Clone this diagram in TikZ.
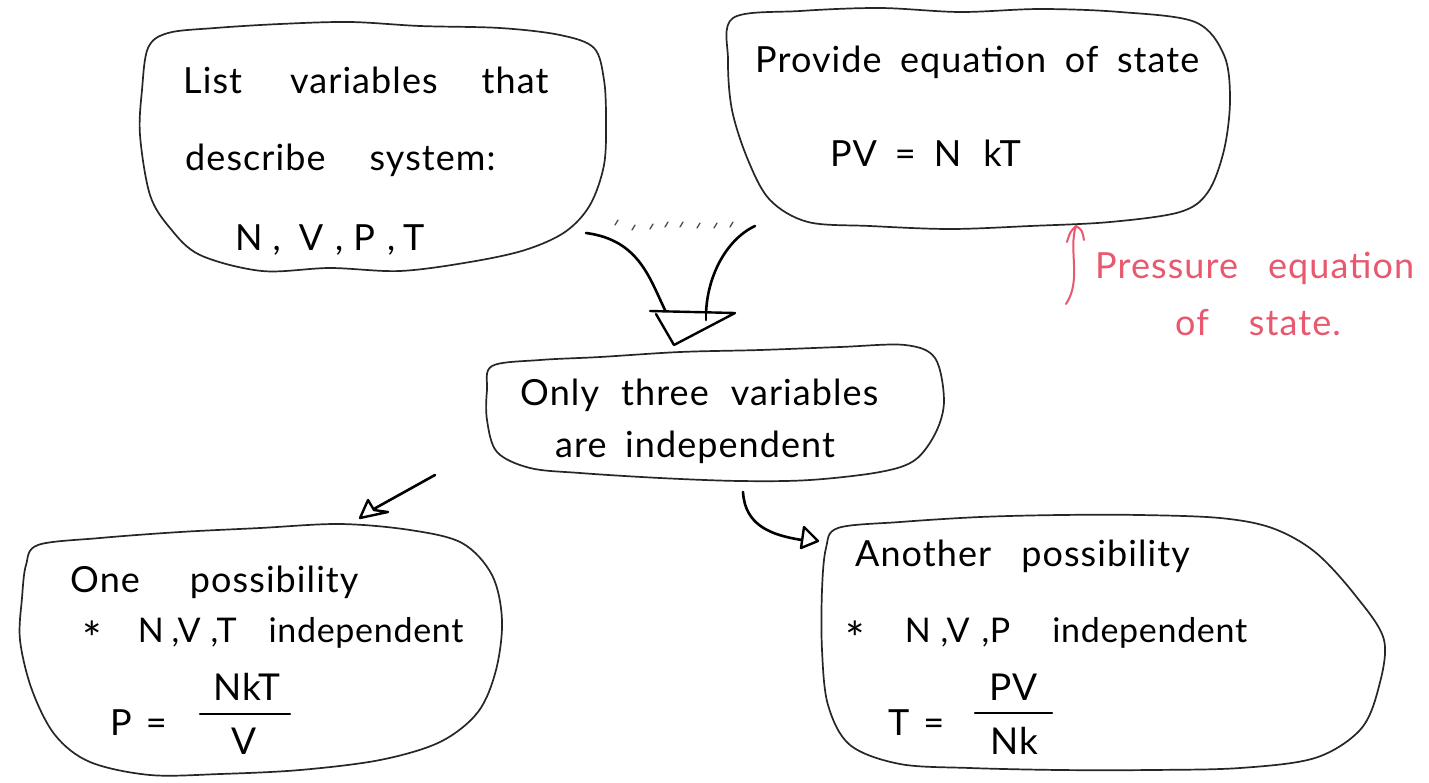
\documentclass[tikz,border=0pt]{standalone}
\usepackage{fontspec}
\setmainfont{Lato}[WordSpace=1.8,LetterSpace=3]
\newfontfamily\handtight{Lato}[WordSpace=1.4,LetterSpace=2]
\newcommand{\gap}[1]{\hspace{#1pt}}
\newcommand{\bulletstar}{\raisebox{-13pt}{\fontsize{46}{40}\selectfont*}}
\begin{document}
\begin{tikzpicture}[x=1pt,y=-1pt,line cap=round,line join=round]
\useasboundingbox[fill=white] (0,0) rectangle (1429,782);
\definecolor{pinkpen}{RGB}{232,88,110}
\tikzset{
  blob/.style={draw=black!85,line width=1.7pt},
  hand/.style={font=\fontsize{36}{40}\selectfont,anchor=base west,inner sep=0pt},
  handt/.style={font=\handtight\fontsize{34}{40}\selectfont,anchor=base west,inner sep=0pt},
  handc/.style={font=\fontsize{37}{40}\selectfont,anchor=base,inner sep=0pt},
  pen/.style={draw=black,line width=2.6pt},
  pinkhand/.style={hand,text=pinkpen},
  openhead/.style={draw=black,line width=2.4pt,fill=white}
}
% ---- outlines
\draw[blob] plot[smooth cycle,tension=0.55] coordinates{(148,48) (142,90) (140,135) (150,195) (170,228) (200,255) (262,271) (330,268) (400,271) (470,262) (525,250) (565,232) (590,205) (604,165) (606,120) (604,80) (594,48) (560,35) (500,28) (420,26) (350,22) (280,24) (215,28) (168,33)};
\draw[blob] plot[smooth cycle,tension=0.55] coordinates{(733,18) (800,11) (880,8) (960,12) (1040,9) (1120,12) (1195,22) (1224,55) (1230,100) (1224,150) (1208,192) (1180,212) (1110,222) (1030,226) (950,229) (870,226) (808,222) (770,200) (748,160) (732,110) (728,60)};
\draw[blob] plot[smooth cycle,tension=0.55] coordinates{(492,366) (540,360) (600,357) (680,352) (760,350) (840,347) (905,345) (935,358) (944,400) (936,432) (915,460) (880,472) (810,480) (740,481) (660,478) (580,473) (530,468) (497,452) (487,420) (487,390)};
\draw[blob] plot[smooth cycle,tension=0.55] coordinates{(38,545) (100,538) (180,532) (260,528) (340,524) (410,530) (462,543) (492,575) (502,620) (496,670) (478,712) (440,742) (380,760) (300,770) (220,774) (150,775) (90,762) (55,735) (32,690) (20,640) (22,598) (26,565)};
\draw[blob] plot[smooth cycle,tension=0.55] coordinates{(838,528) (900,522) (980,517) (1060,515) (1140,515) (1220,518) (1272,528) (1315,552) (1355,595) (1384,640) (1378,690) (1360,730) (1315,758) (1240,768) (1150,770) (1060,770) (970,768) (900,764) (850,745) (828,705) (822,650) (822,590) (826,548)};
% ---- texts
\node[hand] (t1a) at (183,93) {List\gap{48}variables\gap{44}that};
\node[hand] (t1b) at (185,170) {describe\gap{44}system:};
\node[hand] (t1c) at (235,250) {N\gap{10},\gap{18}V\gap{12},\gap{10}P\gap{12},\gap{8}T};
\node[hand] (t2a) at (755,72) {Provide equation of state};
\node[hand] (t2b) at (830,166) {PV\gap{18}=\gap{18}N\gap{22}kT};
\node[hand] (t3a) at (520,405) {Only\gap{22}three\gap{22}variables};
\node[hand] (t3b) at (555,457) {are independent};
\node[hand] (t4a) at (70,592) {One\gap{50}possibility};
\node[handt] (t4b) at (82,642) {\bulletstar\gap{36}N\gap{8},V\gap{10},T\gap{32}independent};
\node[hand] (t4c) at (110,735) {P\gap{14}=};
\node[handc] (t4n) at (247,700) {NkT};
\node[handc] (t4d) at (244,754) {V};
\draw[pen,line width=2.2pt] (200,714) -- (290,714);
\node[hand] (t5a) at (855,566) {Another\gap{30}possibility};
\node[handt] (t5b) at (845,642) {\bulletstar\gap{40}N\gap{10},V\gap{12},P\gap{42}independent};
\node[hand] (t5c) at (888,735) {T\gap{14}=};
\node[handc] (t5n) at (1014,700) {PV};
\node[handc] (t5d) at (1014,754) {Nk};
\draw[pen,line width=2.2pt] (975,713) -- (1052,713);
\node[pinkhand] (p1) at (1095,278) {Pressure\gap{30}equation};
\node[pinkhand] (p2) at (1175,335) {of\gap{40}state.};
% ---- pink arrow
\coordinate (pa0) at (1066,304);
\coordinate (pa1) at (1076,226);
\draw[draw=pinkpen,line width=2pt] (pa0) .. controls (1082,280) and (1068,250) .. (pa1);
\draw[draw=pinkpen,line width=2pt] (1067,242) .. controls (1070,232) .. (pa1) .. controls (1082,230) .. (1084,240);
% ---- funnel arrow
\coordinate (fl0) at (586,233);
\coordinate (fl1) at (666,312);
\coordinate (fr0) at (755,226);
\coordinate (fr1) at (706,320);
\draw[pen] (fl0) .. controls (640,240) and (650,280) .. (fl1);
\draw[pen] (fr0) .. controls (725,240) and (705,280) .. (fr1);
\foreach \x/\y in {615/225,632/230,650/229,665/227,680/227,697/228,714/228,730/227}
  \draw[black!70,line width=1.3pt] (\x,\y) -- ++(3,-5);
\coordinate (fh1) at (650,311);
\coordinate (fh2) at (735,313);
\coordinate (fh3) at (674,345);
\draw[openhead] (fh1) -- (fh2) -- (fh3) -- (656,314);
\draw[pen] (fr1) -- ++(0,-8);
% ---- bottom-left arrow
\coordinate (a1s) at (435,475);
\coordinate (a1e) at (360,518);
\draw[pen] (a1s) -- (372,510);
\draw[openhead] (a1e) -- (368,500) -- (374,510) -- (388,512) -- cycle;
% ---- bottom-right arrow
\coordinate (a2s) at (743,492);
\coordinate (a2e) at (818,541);
\draw[pen] (a2s) .. controls (745,525) and (770,535) .. (802,540);
\draw[openhead] (a2e) -- (804,527) -- (801,548) -- cycle;
\end{tikzpicture}
\end{document}
